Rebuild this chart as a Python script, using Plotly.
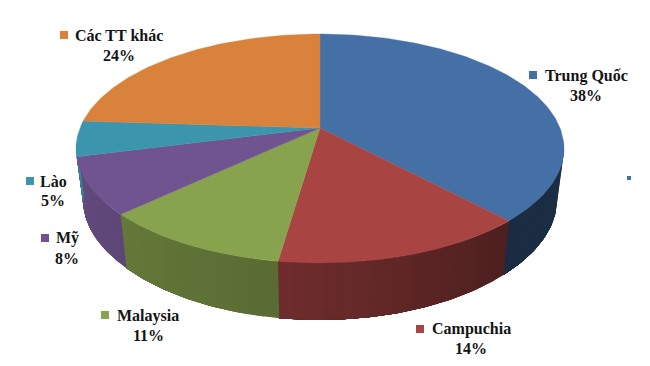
import math
import plotly.graph_objects as go

# Data, clockwise from 12 o'clock
categories = ["Trung Quốc", "Campuchia", "Malaysia", "Mỹ", "Lào", "Các TT khác"]
values = [38, 14.3, 10.7, 8, 5, 24]
value_labels = ["38%", "14%", "11%", "8%", "5%", "24%"]

top_colors = ["#4470A6", "#A84543", "#88A34E", "#70548F", "#3B96AD", "#D9823B"]

# Label placement (pixels): marker x, marker y, text centre x, name y, percent y
label_pos = [
    (533, 75, 586, 76, 95),
    (420, 329, 471, 329, 348),
    (105, 315, 148, 316, 335),
    (45, 238, 67, 238, 258),
    (30, 181, 53, 181, 200),
    (64, 35, 119, 35, 55),
]

W, H = 650, 366
PAGE_MARGIN = 8  # the browser's default body margin
CX, CY = 320, 128


def rim_top(theta):
    u, v = math.sin(theta), math.cos(theta)
    d = 1 + 0.179 * v
    return CX + 240 * u / d, CY - 110.8 * v / d


def rim_bottom(theta):
    u, v = math.sin(theta), math.cos(theta)
    return CX + 233 * u / (1 + 0.179 * v), 180.5 - 108.8 * v / (1 + 0.22 * v)


def arc(fn, a, b, deg_step=1.0):
    n = max(2, int(abs(b - a) / deg_step) + 1)
    pts = [fn(math.radians(a + (b - a) * i / (n - 1))) for i in range(n)]
    return [p[0] for p in pts], [p[1] for p in pts]


def shade_at(deg):
    anchors = [(95, 0.42), (137, 0.40), (138, 0.46), (187, 0.66), (188, 0.66),
               (226, 0.74), (227, 0.84), (262, 0.90)]
    for (a, sa), (b, sb) in zip(anchors, anchors[1:]):
        if a <= deg <= b:
            return sa + (sb - sa) * (deg - a) / (b - a)
    return 0.5


def darken(hex_color, f):
    r, g, b = (int(hex_color[i:i + 2], 16) for i in (1, 3, 5))
    return f"rgb({int(r * f)},{int(g * f)},{int(b * f)})"


total = sum(values)
bounds = [0.0]
for val in values:
    bounds.append(bounds[-1] + val / total * 360)

fig = go.Figure()

WALL_START, WALL_END = 97, 263


def add_poly(xs, ys, color, width=0.0):
    fig.add_trace(go.Scatter(x=xs + xs[:1], y=ys + ys[:1], mode="lines", fill="toself",
                             fillcolor=color, line=dict(color=color, width=width),
                             hoverinfo="skip", showlegend=False))


# Side wall: overlapping bands running to the end of each slice, so shading has no seams
for i, color in enumerate(top_colors):
    a0 = max(bounds[i], WALL_START)
    a1 = min(bounds[i + 1], WALL_END)
    if a1 <= a0:
        continue
    steps = max(1, int((a1 - a0) / 3))
    for s in range(steps):
        sa = a0 + (a1 - a0) * s / steps
        tx, ty = arc(rim_top, sa, a1, 1.0)
        bx, by = arc(rim_bottom, a1, sa, 1.0)
        add_poly(tx + bx, ty + by, darken(color, shade_at(sa + 1.5)))

# Top face
for i, color in enumerate(top_colors):
    ax, ay = arc(rim_top, bounds[i], bounds[i + 1])
    add_poly([float(CX)] + ax, [float(CY)] + ay, color, 0.4)

# Legend-style markers
fig.add_trace(go.Scatter(
    x=[p[0] for p in label_pos], y=[p[1] for p in label_pos], mode="markers",
    marker=dict(symbol="square", size=8, color=top_colors, line=dict(width=0)),
    hoverinfo="skip", showlegend=False))
# Stray small marker at the right of the original picture
fig.add_trace(go.Scatter(
    x=[629], y=[178], mode="markers",
    marker=dict(symbol="square", size=4, color=top_colors[0], line=dict(width=0)),
    hoverinfo="skip", showlegend=False))

font = dict(family="Liberation Serif", size=16, color="#141414", weight="bold")
for name, pct, (mx, my, tx, ny, py) in zip(categories, value_labels, label_pos):
    fig.add_annotation(x=tx, y=ny, text=f"<b>{name}</b>", showarrow=False, font=font)
    fig.add_annotation(x=tx, y=py, text=f"<b>{pct}</b>", showarrow=False, font=font)

fig.update_layout(
    width=W - PAGE_MARGIN, height=H - PAGE_MARGIN, autosize=False,
    margin=dict(l=0, r=0, t=0, b=0),
    paper_bgcolor="white", plot_bgcolor="white",
    xaxis=dict(range=[PAGE_MARGIN, W], visible=False, fixedrange=True),
    yaxis=dict(range=[H, PAGE_MARGIN], visible=False, fixedrange=True),
)
fig.write_html("out.html", config={"displayModeBar": False})
